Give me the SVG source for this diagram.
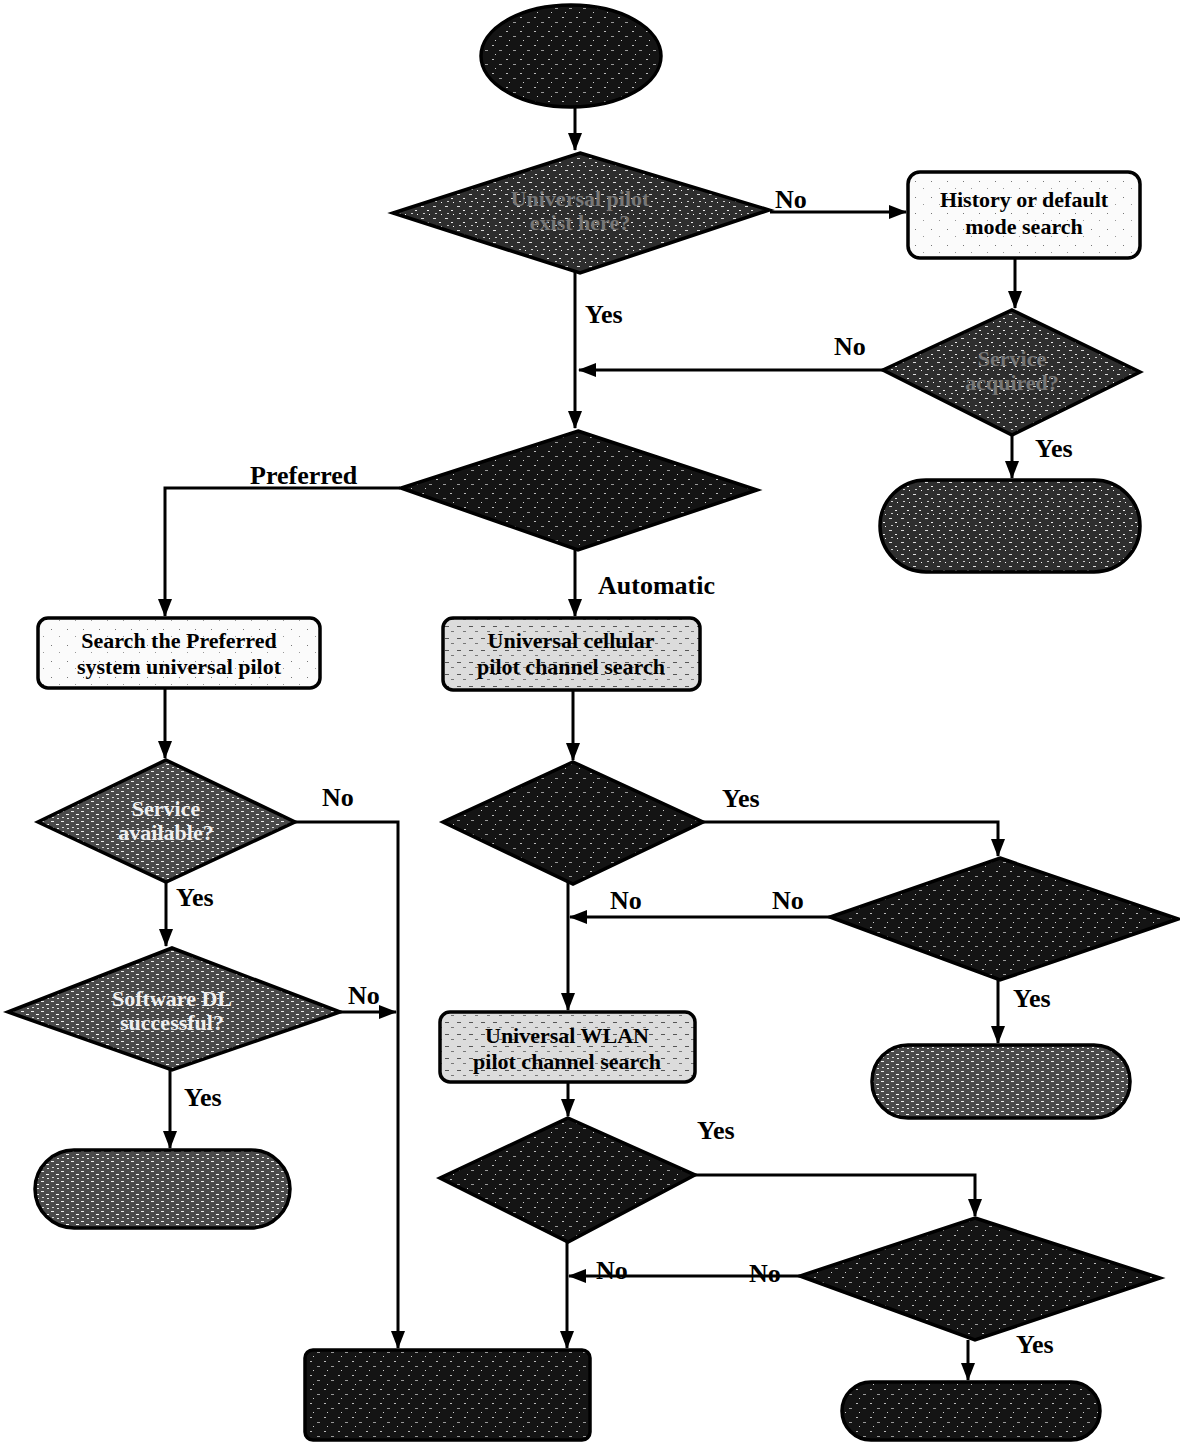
<svg xmlns="http://www.w3.org/2000/svg" width="1180" height="1454" viewBox="0 0 1180 1454">
<style>
.edge{fill:none;stroke:#000;stroke-width:3}
.lbl{font-family:"Liberation Serif",serif;font-weight:bold;font-size:26px;fill:#000}
.nt{font-family:"Liberation Serif",serif;font-weight:bold;font-size:22px;text-anchor:middle}
.out{stroke:#000;stroke-width:3.5}
.dk{fill:url(#pdk)}
.md{fill:url(#pmd)}
.gr{fill:url(#pgr)}
.lt{fill:url(#plt)}
.wh{fill:url(#pwh)}
</style>
<defs>
<pattern id="pdk" width="14" height="14" patternUnits="userSpaceOnUse">
<rect width="14" height="14" fill="#141414"/>
<rect x="2" y="3" width="2" height="1" fill="#bbb"/><rect x="9" y="8" width="3" height="1" fill="#999"/><rect x="5" y="12" width="1" height="1" fill="#ccc"/>
</pattern>
<pattern id="pmd" width="12" height="12" patternUnits="userSpaceOnUse">
<rect width="12" height="12" fill="#2e2e2e"/>
<rect x="1" y="2" width="3" height="1" fill="#ddd"/><rect x="7" y="6" width="2" height="1" fill="#eee"/><rect x="3" y="9" width="2" height="1" fill="#ccc"/><rect x="9" y="10" width="1" height="1" fill="#fff"/>
</pattern>
<pattern id="pgr" width="10" height="10" patternUnits="userSpaceOnUse">
<rect width="10" height="10" fill="#4a4a4a"/>
<rect x="1" y="1" width="3" height="1" fill="#eee"/><rect x="6" y="4" width="3" height="1" fill="#fff"/><rect x="2" y="7" width="2" height="1" fill="#ddd"/><rect x="7" y="8" width="2" height="1" fill="#eee"/>
</pattern>
<pattern id="plt" width="12" height="12" patternUnits="userSpaceOnUse">
<rect width="12" height="12" fill="#dcdcdc"/>
<rect x="1" y="2" width="4" height="1" fill="#555"/><rect x="7" y="7" width="3" height="1" fill="#777"/>
</pattern>
<pattern id="pwh" width="16" height="16" patternUnits="userSpaceOnUse">
<rect width="16" height="16" fill="#fbfbfb"/>
<rect x="3" y="5" width="1" height="1" fill="#777"/><rect x="11" y="12" width="1" height="1" fill="#999"/>
</pattern>
<marker id="ah" markerWidth="18" markerHeight="14" refX="17" refY="7" orient="auto" markerUnits="userSpaceOnUse">
<path d="M0,0 L18,7 L0,14 Z" fill="#000"/>
</marker>
</defs>

<g id="connectors">
<path class="edge" d="M575,108 V150" marker-end="url(#ah)"/>
<path class="edge" d="M770,212 H906" marker-end="url(#ah)"/>
<path class="edge" d="M1015,258 V308" marker-end="url(#ah)"/>
<path class="edge" d="M575,272 V428" marker-end="url(#ah)"/>
<path class="edge" d="M883,370 H579" marker-end="url(#ah)"/>
<path class="edge" d="M1012,435 V478" marker-end="url(#ah)"/>
<path class="edge" d="M400,488 H165 V616" marker-end="url(#ah)"/>
<path class="edge" d="M575,550 V616" marker-end="url(#ah)"/>
<path class="edge" d="M165,688 V758" marker-end="url(#ah)"/>
<path class="edge" d="M295,822 H398 V1348" marker-end="url(#ah)"/>
<path class="edge" d="M166,882 V946" marker-end="url(#ah)"/>
<path class="edge" d="M340,1012 H396" marker-end="url(#ah)"/>
<path class="edge" d="M170,1070 V1148" marker-end="url(#ah)"/>
<path class="edge" d="M573,690 V760" marker-end="url(#ah)"/>
<path class="edge" d="M703,822 H998 V856" marker-end="url(#ah)"/>
<path class="edge" d="M568,882 V1010" marker-end="url(#ah)"/>
<path class="edge" d="M830,917 H570" marker-end="url(#ah)"/>
<path class="edge" d="M998,980 V1043" marker-end="url(#ah)"/>
<path class="edge" d="M568,1082 V1116" marker-end="url(#ah)"/>
<path class="edge" d="M695,1175 H975 V1216" marker-end="url(#ah)"/>
<path class="edge" d="M567,1242 V1348" marker-end="url(#ah)"/>
<path class="edge" d="M800,1276 H569" marker-end="url(#ah)"/>
<path class="edge" d="M968,1340 V1380" marker-end="url(#ah)"/>
</g>

<g id="labels">
<text class="lbl" x="775" y="208">No</text>
<text class="lbl" x="585" y="323">Yes</text>
<text class="lbl" x="834" y="355">No</text>
<text class="lbl" x="1035" y="457">Yes</text>
<text class="lbl" x="250" y="484">Preferred</text>
<text class="lbl" x="598" y="594">Automatic</text>
<text class="lbl" x="322" y="806">No</text>
<text class="lbl" x="176" y="906">Yes</text>
<text class="lbl" x="348" y="1004">No</text>
<text class="lbl" x="184" y="1106">Yes</text>
<text class="lbl" x="722" y="807">Yes</text>
<text class="lbl" x="772" y="909">No</text>
<text class="lbl" x="610" y="909">No</text>
<text class="lbl" x="1013" y="1007">Yes</text>
<text class="lbl" x="697" y="1139">Yes</text>
<text class="lbl" x="749" y="1282">No</text>
<text class="lbl" x="596" y="1279">No</text>
<text class="lbl" x="1016" y="1353">Yes</text>
</g>

<g id="start"><ellipse class="out dk" cx="571" cy="56" rx="90" ry="51"/></g>

<g id="d1"><polygon class="out md" points="580,153 769,210 580,273 393,213"/>
<text class="nt" fill="#777" x="580" y="206">Universal pilot</text>
<text class="nt" fill="#777" x="580" y="230">exist here?</text></g>

<g id="b1"><rect class="out wh" x="908" y="172" width="232" height="86" rx="12"/>
<text class="nt" fill="#000" x="1024" y="207">History or default</text>
<text class="nt" fill="#000" x="1024" y="234">mode search</text></g>

<g id="d2"><polygon class="out md" points="1012,310 1140,372 1012,435 883,370"/>
<text class="nt" fill="#777" x="1012" y="366">Service</text>
<text class="nt" fill="#777" x="1012" y="390">acquired?</text></g>

<g id="t1"><rect class="out md" x="880" y="480" width="260" height="92" rx="46"/></g>

<g id="d3"><polygon class="out dk" points="578,431 757,490 578,550 401,488"/></g>

<g id="b2"><rect class="out wh" x="38" y="618" width="282" height="70" rx="10"/>
<text class="nt" fill="#000" x="179" y="648">Search the Preferred</text>
<text class="nt" fill="#000" x="179" y="674">system universal pilot</text></g>

<g id="b3"><rect class="out lt" x="443" y="618" width="257" height="72" rx="10"/>
<text class="nt" fill="#000" x="571" y="648">Universal cellular</text>
<text class="nt" fill="#000" x="571" y="674">pilot channel search</text></g>

<g id="d4"><polygon class="out gr" points="166,760 295,822 166,882 38,822"/>
<text class="nt" fill="#eee" x="166" y="816">Service</text>
<text class="nt" fill="#eee" x="166" y="840">available?</text></g>

<g id="d5"><polygon class="out gr" points="172,948 340,1012 172,1070 8,1012"/>
<text class="nt" fill="#eee" x="172" y="1006">Software DL</text>
<text class="nt" fill="#eee" x="172" y="1030">successful?</text></g>

<g id="t2"><rect class="out gr" x="35" y="1150" width="255" height="78" rx="39"/></g>

<g id="d6"><polygon class="out dk" points="573,762 703,822 573,884 443,822"/></g>

<g id="d7"><polygon class="out dk" points="1000,858 1178,919 1000,980 830,917"/></g>

<g id="t3"><rect class="out gr" x="872" y="1045" width="258" height="73" rx="36"/></g>

<g id="b4"><rect class="out lt" x="440" y="1012" width="255" height="70" rx="10"/>
<text class="nt" fill="#000" x="567" y="1043">Universal WLAN</text>
<text class="nt" fill="#000" x="567" y="1069">pilot channel search</text></g>

<g id="d8"><polygon class="out dk" points="568,1118 695,1175 568,1242 440,1178"/></g>

<g id="d9"><polygon class="out dk" points="975,1218 1160,1278 975,1340 800,1276"/></g>

<g id="r1"><rect class="out dk" x="305" y="1350" width="285" height="90" rx="8"/></g>

<g id="t4"><rect class="out dk" x="842" y="1382" width="258" height="58" rx="29"/></g>
</svg>
